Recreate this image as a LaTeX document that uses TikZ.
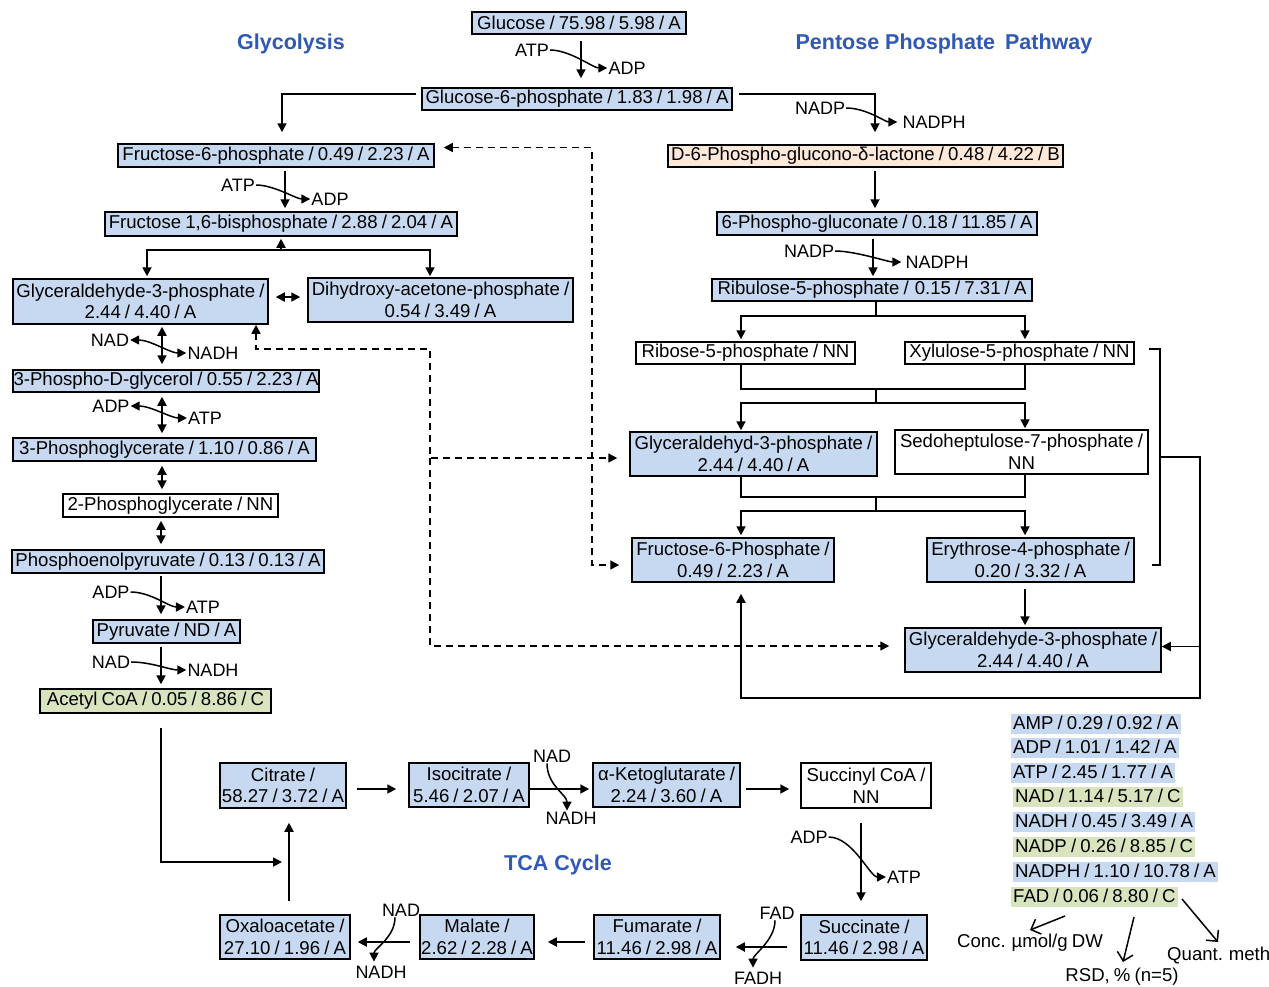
\documentclass[tikz,border=0pt]{standalone}
\usepackage{fontspec}
\setmainfont[WordSpace=0.8]{Liberation Sans}
\newfontfamily\ttlfam{Liberation Sans}
\usetikzlibrary{arrows.meta}
\definecolor{bxc}{RGB}{198,217,241}
\definecolor{pcc}{RGB}{253,233,217}
\definecolor{grc}{RGB}{215,228,189}
\definecolor{ttc}{RGB}{48,88,184}
\newcommand\bxfont{\fontsize{18.6}{21.5}\selectfont}
\newcommand\cofont{\fontsize{18}{20}\selectfont}
\newcommand\ttlfont{\ttlfam\bfseries\fontsize{21.5}{24}\selectfont}
\tikzset{
 box/.style={draw,line width=1.5pt,fill=bxc,inner sep=0pt,align=center,font=\bxfont},
 wbox/.style={box,fill=white},
 sz/.style 2 args={minimum width=#1pt,minimum height=#2pt},
 lbl/.style={inner sep=1pt,font=\cofont},
 ttl/.style={font=\ttlfont,text=ttc,inner sep=0pt,anchor=base},
 ln/.style={line width=1.8pt},
 ar/.style={line width=1.8pt,->},
 dar/.style={line width=1.8pt,<->},
 cv/.style={line width=1.5pt},
 dsh/.style={line width=1.6pt,dash pattern=on 7pt off 5pt},
 lg/.style={anchor=west,inner xsep=2pt,inner ysep=1pt,text height=14pt,text depth=4pt,font=\bxfont},
 lt/.style={inner sep=1pt,font=\bxfont,anchor=base},
 lar/.style={line width=1.5pt,-{Straight Barb[length=8pt,width=16pt]}},
}
\begin{document}
\begin{tikzpicture}[x=1pt,y=-1pt,>={Triangle[length=9pt,width=9pt]}]
\useasboundingbox (0,0) rectangle (1269,986);
\fill[white] (0,0) rectangle (1269,986);
% titles
\node[ttl] (tg) at (291,49) {Glycolysis};
\node[ttl] (tp) at (944,49) {Pentose Phosphate\hspace{10pt}Pathway};
\node[ttl] (tt) at (558,870) {TCA Cycle};
% glycolysis boxes
\node[box,sz={214}{22}] (glc) at (579,23) {Glucose / 75.98 / 5.98 / A};
\node[box,sz={310}{22}] (g6p) at (577,99) {Glucose-6-phosphate / 1.83 / 1.98 / A};
\node[box,sz={316}{23}] (f6p) at (276,155.5) {Fructose-6-phosphate / 0.49 / 2.23 / A};
\node[box,sz={352}{24}] (fbp) at (281,224) {Fructose 1,6-bisphosphate / 2.88 / 2.04 / A};
\node[box,sz={255}{45}] (gap1) at (140.5,301.5) {Glyceraldehyde-3-phosphate /\\2.44 / 4.40 / A};
\node[box,sz={265}{44}] (dhap) at (440.5,300) {Dihydroxy-acetone-phosphate /\\0.54 / 3.49 / A};
\node[box,sz={306}{22}] (pdg) at (166,381) {3-Phospho-D-glycerol / 0.55 / 2.23 / A};
\node[box,sz={303}{23}] (pg3) at (164.5,449.5) {3-Phosphoglycerate / 1.10 / 0.86 / A};
\node[wbox,sz={215}{23}] (pg2) at (170.5,505.5) {2-Phosphoglycerate / NN};
\node[box,sz={312}{23}] (pep) at (168,561.5) {Phosphoenolpyruvate / 0.13 / 0.13 / A};
\node[box,sz={147}{23}] (pyr) at (166.5,631.5) {Pyruvate / ND / A};
\node[box,fill=grc,sz={231}{24}] (acoa) at (155.5,701) {Acetyl CoA / 0.05 / 8.86 / C};
% PPP boxes
\node[box,fill=pcc,sz={395}{22}] (lac) at (865.5,156) {D-6-Phospho-glucono-δ-lactone / 0.48 / 4.22 / B};
\node[box,sz={320}{23}] (pg6) at (877,223.5) {6-Phospho-gluconate / 0.18 / 11.85 / A};
\node[box,sz={320}{22}] (ru5p) at (872,290) {Ribulose-5-phosphate /\hspace{6pt}0.15 / 7.31 / A};
\node[wbox,sz={219}{22}] (r5p) at (745.5,353) {Ribose-5-phosphate / NN};
\node[wbox,sz={229}{22}] (x5p) at (1019.5,353) {Xylulose-5-phosphate / NN};
\node[box,sz={247}{44}] (gap2) at (753.5,454) {Glyceraldehyd-3-phosphate /\\2.44 / 4.40 / A};
\node[wbox,sz={253}{44}] (s7p) at (1021.5,452) {Sedoheptulose-7-phosphate /\\NN};
\node[box,sz={202}{44}] (f6p2) at (733,560) {Fructose-6-Phosphate /\\0.49 / 2.23 / A};
\node[box,sz={207}{44}] (e4p) at (1030.5,560) {Erythrose-4-phosphate /\\0.20 / 3.32 / A};
\node[box,sz={256}{44}] (gap3) at (1033,650) {Glyceraldehyde-3-phosphate /\\2.44 / 4.40 / A};
% TCA boxes
\node[box,sz={126}{45}] (cit) at (283,785.5) {Citrate /\\58.27 / 3.72 / A};
\node[box,sz={120}{44}] (iso) at (469,785) {Isocitrate /\\5.46 / 2.07 / A};
\node[box,sz={147}{44}] (akg) at (666.5,785) {α-Ketoglutarate /\\2.24 / 3.60 / A};
\node[wbox,sz={130}{45}] (suc) at (866,785.5) {Succinyl CoA /\\NN};
\node[box,sz={126}{45}] (succ) at (864,937.5) {Succinate /\\11.46 / 2.98 / A};
\node[box,sz={126}{44}] (fum) at (657,937) {Fumarate /\\11.46 / 2.98 / A};
\node[box,sz={114}{44}] (mal) at (477,937) {Malate /\\2.62 / 2.28 / A};
\node[box,sz={130}{44}] (oaa) at (285,937) {Oxaloacetate /\\27.10 / 1.96 / A};
% cofactor labels
\node[lbl] (atp1) at (532,50) {ATP};
\node[lbl] (adp1) at (627,68) {ADP};
\node[lbl] (nadp1) at (820,108) {NADP};
\node[lbl] (nadph1) at (934,122) {NADPH};
\node[lbl] (atp2) at (238,185) {ATP};
\node[lbl] (adp2) at (330,199) {ADP};
\node[lbl] (nad1) at (110,340) {NAD};
\node[lbl] (nadh1) at (213,353) {NADH};
\node[lbl] (adp3) at (111,406) {ADP};
\node[lbl] (atp3) at (205,418) {ATP};
\node[lbl] (adp4) at (111,592) {ADP};
\node[lbl] (atp4) at (203,607) {ATP};
\node[lbl] (nad2) at (111,662) {NAD};
\node[lbl] (nadh2) at (213,670) {NADH};
\node[lbl] (nadp2) at (809,251) {NADP};
\node[lbl] (nadph2) at (937,262) {NADPH};
\node[lbl] (nad3) at (552,756) {NAD};
\node[lbl] (nadh3) at (571,818) {NADH};
\node[lbl] (adp5) at (809,837) {ADP};
\node[lbl] (atp5) at (904,877) {ATP};
\node[lbl] (fad) at (777,913) {FAD};
\node[lbl] (fadh) at (758,978) {FADH};
\node[lbl] (nad4) at (401,910) {NAD};
\node[lbl] (nadh4) at (381,972) {NADH};
% glycolysis connectors
\draw[ar,shorten <=6pt,shorten >=9pt] ([xshift=2pt]glc.south) -- ([xshift=4pt]g6p.north);
\draw[cv,->] (atp1.east) .. controls +(20,0) and +(-14,0) .. (adp1.west);
\draw[ar,shorten <=5pt,shorten >=11pt] ([yshift=5pt]g6p.west) -| ([xshift=6pt]f6p.north);
\draw[ar,shorten <=6pt,shorten >=12pt] ([yshift=5pt]g6p.east) -| ([xshift=9.5pt]lac.north);
\draw[cv,->,shorten >=4pt] (nadp1.east) .. controls +(20,0) and +(-16,0) .. (nadph1.west);
\draw[ar,shorten <=3pt,shorten >=3pt] ([xshift=9pt]f6p.south) -- ([xshift=4pt]fbp.north);
\draw[cv,->] (atp2.east) .. controls +(18,0) and +(-14,0) .. (adp2.west);
\coordinate (jg) at (281,250);
\draw[ar,shorten >=2pt] (jg) -- (fbp.south);
\draw[ar,shorten >=2pt] (jg) -| ([xshift=6.5pt]gap1.north);
\draw[ar,shorten >=1pt] (jg) -| ([xshift=-10.5pt]dhap.north);
\draw[dar,shorten <=7pt,shorten >=7pt] ([yshift=4.5pt]gap1.east) -- ([yshift=4.5pt]gap1.east -| dhap.west);
\draw[dar,shorten <=2pt,shorten >=5pt] ([xshift=21.5pt]gap1.south) -- ([xshift=-4pt]pdg.north);
\draw[cv,<->] (nad1.east) .. controls +(20,0) and +(-16,0) .. (nadh1.west);
\draw[dar,shorten <=4pt,shorten >=4pt] ([xshift=-4pt]pdg.south) -- ([xshift=-2.5pt]pg3.north);
\draw[cv,<->] (adp3.east) .. controls +(20,0) and +(-16,0) .. (atp3.west);
\draw[dar,shorten <=4pt,shorten >=4pt] ([xshift=-2.5pt]pg3.south) -- ([xshift=-8.5pt]pg2.north);
\draw[dar,shorten <=3pt,shorten >=5pt] ([xshift=-9.5pt]pg2.south) -- ([xshift=-7pt]pep.north);
\draw[ar,shorten <=2pt,shorten >=5pt] ([xshift=-7pt]pep.south) -- ([xshift=-5.5pt]pyr.north);
\draw[cv,->] (adp4.east) .. controls +(20,0) and +(-16,0) .. (atp4.west);
\draw[ar,shorten <=3pt,shorten >=4pt] ([xshift=-5.5pt]pyr.south) -- ([xshift=5.5pt]acoa.north);
\draw[cv,->] (nad2.east) .. controls +(20,0) and +(-16,0) .. (nadh2.west);
\coordinate (cm) at (289,862);
\draw[ar,shorten <=14pt,shorten >=7pt] ([xshift=5.5pt]acoa.south) |- (cm);
% PPP connectors
\coordinate (cL) at (741,0);
\coordinate (cR) at (1025,0);
\draw[ar,shorten <=3pt,shorten >=3pt] ([xshift=9.5pt]lac.south) -- ([xshift=-2pt]pg6.north);
\draw[ar,shorten <=3pt,shorten >=2pt] ([xshift=-4pt]pg6.south) -- ([xshift=1pt]ru5p.north);
\draw[cv,->,shorten >=3pt] (nadp2.east) .. controls +(20,0) and +(-16,0) .. (nadph2.west);
\coordinate (j1) at (876,316);
\draw[ln] ([xshift=4pt]ru5p.south) -- (j1);
\draw[ar,shorten >=2pt] (j1) -| (r5p.north -| cL);
\draw[ar,shorten >=2pt] (j1) -| (x5p.north -| cR);
\coordinate (j2) at (876,389);
\coordinate (j3) at (876,403);
\draw[ln] (r5p.south -| cL) |- (j2) -| (x5p.south -| cR);
\draw[ln] (j2) -- (j3);
\draw[ar,shorten >=1pt] (j3) -| (gap2.north -| cL);
\draw[ar,shorten >=1pt] (j3) -| (s7p.north -| cR);
\coordinate (j4) at (876,497);
\coordinate (j5) at (876,511);
\draw[ln] (gap2.south -| cL) |- (j4) -| (s7p.south -| cR);
\draw[ln] (j4) -- (j5);
\draw[ar,shorten >=2pt] (j5) -| (f6p2.north -| cL);
\draw[ar,shorten >=2pt] (j5) -| (e4p.north -| cR);
\draw[ar,shorten <=6pt,shorten >=2pt] (e4p.south -| cR) -- (gap3.north -| cR);
\coordinate (bx) at (1160,0);
\coordinate (rr) at (1200,0);
\coordinate (x5e) at ([yshift=4pt]x5p.east);
\coordinate (e4e) at ([yshift=-5pt]e4p.east);
\draw[ln,shorten <=14pt,shorten >=17pt] (x5e) -- (x5e -| bx) -- (e4e -| bx) -- (e4e);
\coordinate (bj) at (1160,457);
\coordinate (bb) at (1200,698);
\draw[ar,shorten >=11pt] (bj) -| (bb) -| (f6p2.south -| cL);
\coordinate (g3e) at ([yshift=3.5pt]gap3.east);
\draw[ar] (g3e -| rr) -- (g3e);
% dashed connectors
\coordinate (dv) at (592,0);
\coordinate (f2w) at ([yshift=-5pt]f6p2.west);
\draw[dsh,<->,shorten <=9pt,shorten >=12pt] ([yshift=8pt]f6p.east) -| (f2w -| dv) -- (f2w);
\coordinate (dj) at (430,349);
\coordinate (dk) at (430,458);
\draw[dsh,<->,shorten >=12pt] ([xshift=115.5pt]gap1.south) |- (dj) |- ([yshift=-4pt]gap2.west);
\draw[dsh,->,shorten >=15pt] (dk) |- ([yshift=4pt]gap3.west);
% TCA connectors
\draw[ar,shorten <=13pt,shorten >=14pt] ([xshift=4pt]oaa.north) -- ([xshift=6pt]cit.south);
\draw[ar,shorten <=10pt,shorten >=12pt] ([yshift=-3.5pt]cit.east) -- ([yshift=-3.5pt]cit.east -| iso.west);
\draw[ar,shorten >=3pt] ([yshift=-4pt]iso.east) -- ([yshift=-4pt]iso.east -| akg.west);
\draw[cv,->] ([xshift=-5pt]nad3.south) .. controls +(0,22) and +(0,-16) .. ([xshift=-4pt]nadh3.north);
\draw[ar,shorten <=5pt,shorten >=11pt] ([yshift=-4pt]akg.east) -- ([yshift=-4pt]akg.east -| suc.west);
\draw[ar,shorten <=14pt,shorten >=13pt] ([xshift=-5pt]suc.south) -- ([xshift=-3pt]succ.north);
\draw[cv,->] (adp5.east) .. controls +(24,0) and +(-16,0) .. (atp5.west);
\draw[ar,shorten <=13pt,shorten >=15pt] ([yshift=-9.5pt]succ.west) -- ([yshift=-9.5pt]succ.west -| fum.east);
\draw[cv,->,shorten >=3pt] ([xshift=-2pt]fad.south) .. controls +(0,20) and +(0,-16) .. ([xshift=-5pt]fadh.north);
\draw[ar,shorten <=8pt,shorten >=13pt] ([yshift=-5pt]fum.west) -- ([yshift=-5pt]fum.west -| mal.east);
\draw[ar,shorten <=9pt,shorten >=7pt] ([yshift=-5pt]mal.west) -- ([yshift=-5pt]mal.west -| oaa.east);
\draw[cv,->,shorten >=3pt] ([xshift=-6pt]nad4.south) .. controls +(0,20) and +(0,-16) .. ([xshift=-7pt]nadh4.north);
% legend
\node[lg,fill=bxc] (l1) at (1011,724) {AMP / 0.29 / 0.92 / A};
\node[lg,fill=bxc] (l2) at (1011,748) {ADP / 1.01 / 1.42 / A};
\node[lg,fill=bxc] (l3) at (1011,773) {ATP / 2.45 / 1.77 / A};
\node[lg,fill=grc] (l4) at (1013,797) {NAD / 1.14 / 5.17 / C};
\node[lg,fill=bxc] (l5) at (1013,822) {NADH / 0.45 / 3.49 / A};
\node[lg,fill=grc] (l6) at (1013,847) {NADP / 0.26 / 8.85 / C};
\node[lg,fill=bxc] (l7) at (1013,872) {NADPH / 1.10 / 10.78 / A};
\node[lg,fill=grc] (l8) at (1011,897) {FAD / 0.06 / 8.80 / C};
\node[lt] (conc) at (1030,947) {Conc. µmol/g DW};
\node[lt] (rsd) at (1122,981) {RSD, \% (n=5)};
\node[lt,anchor=base west] (quant) at (1166,960) {Quant. meth};
\coordinate (la1) at (1065,916);
\coordinate (lb1) at (1030,930);
\coordinate (la2) at (1134,917);
\coordinate (lb2) at (1123,962);
\coordinate (la3) at (1182,899);
\coordinate (lb3) at (1218,942);
\draw[lar] (la1) -- (lb1);
\draw[lar] (la2) -- (lb2);
\draw[lar] (la3) -- (lb3);
\end{tikzpicture}
\end{document}
